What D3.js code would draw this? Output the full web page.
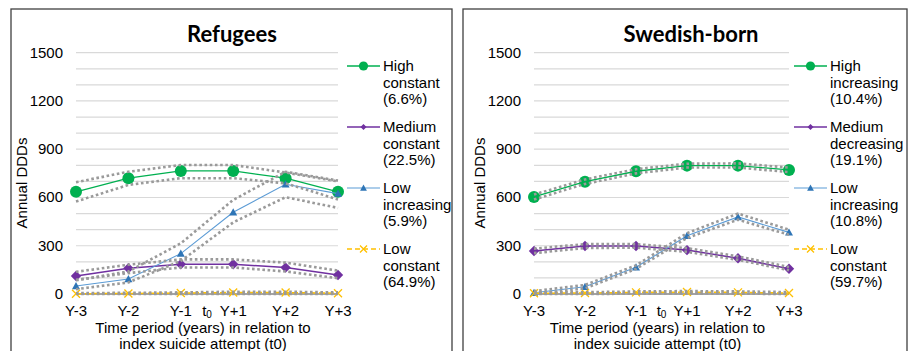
<!DOCTYPE html>
<meta charset="utf-8">
<style>
  body { margin: 0; background: #fff; }
  text { font-family: "Liberation Sans", Arial, sans-serif; fill: #000; }
  .title { font-family: Lato, "Open Sans", sans-serif; font-weight: bold; }
</style>
<script src="https://d3js.org/d3.v7.min.js"></script>
<svg id="chart" width="908" height="351"></svg>
<script>

// categories and ticks
var categories = ["Y-3", "Y-2", "Y-1", "Y+1", "Y+2", "Y+3"];
var yTicks = [0, 300, 600, 900, 1200, 1500];
var gridValues = [0, 100, 200, 300, 400, 500, 600, 700, 800, 900, 1000, 1100, 1200, 1300, 1400, 1500];

// Refugees
var refHigh   = [635, 720, 765, 765, 720, 635];
var refHighLo = [575, 678, 720, 720, 688, 588];
var refHighHi = [695, 760, 802, 802, 755, 700];
var refMed    = [112, 160, 185, 185, 164, 118];
var refMedLo  = [88, 130, 165, 165, 140, 98];
var refMedHi  = [138, 182, 215, 215, 195, 145];
var refLowInc   = [50, 93, 251, 508, 682, 624];
var refLowIncLo = [30, 72, 205, 445, 602, 535];
var refLowIncHi = [85, 140, 315, 585, 760, 705];
var refLowCon   = [2, 3, 6, 9, 9, 5];
var refLowConLo = [0, 0, 0, 0, 0, 0];
var refLowConHi = [6, 7, 10, 14, 14, 10];

// Swedish-born
var sweHigh   = [603, 698, 763, 798, 798, 771];
var sweHighLo = [588, 684, 750, 786, 786, 758];
var sweHighHi = [618, 712, 776, 810, 812, 786];
var sweMed    = [267, 298, 298, 273, 222, 157];
var sweMedLo  = [254, 286, 288, 262, 212, 148];
var sweMedHi  = [282, 310, 310, 285, 234, 168];
var sweLowInc   = [8, 45, 166, 362, 479, 383];
var sweLowIncLo = [0, 35, 156, 348, 462, 368];
var sweLowIncHi = [18, 56, 178, 378, 500, 400];
var sweLowCon   = [5, 6, 10, 12, 10, 6];
var sweLowConLo = [0, 0, 2, 4, 2, 0];
var sweLowConHi = [10, 11, 16, 18, 16, 12];

var refLabels = [["High", "constant", "(6.6%)"], ["Medium", "constant", "(22.5%)"],
                 ["Low", "increasing", "(5.9%)"], ["Low", "constant", "(64.9%)"]];
var sweLabels = [["High", "increasing", "(10.4%)"], ["Medium", "decreasing", "(19.1%)"],
                 ["Low", "increasing", "(10.8%)"], ["Low", "constant", "(59.7%)"]];

var styles = [
  { color: "#00b050", marker: "circle", lineColor: "#00b050", width: 1.3, dash: null },
  { color: "#7030a0", marker: "diamond", lineColor: "#7030a0", width: 1.5, dash: null },
  { color: "#2e75b6", marker: "triangle", lineColor: "#5b9bd5", width: 1.1, dash: null },
  { color: "#ffc000", marker: "cross", lineColor: "#ffc000", width: 1.5, dash: "6,3" }
];

var panels = [
  { title: "Refugees", box: [11, 9, 441], x0: 76, x1: 338, titleX: 232, legendX: 347,
    series: [[refHigh, refHighLo, refHighHi], [refMed, refMedLo, refMedHi],
             [refLowInc, refLowIncLo, refLowIncHi], [refLowCon, refLowConLo, refLowConHi]],
    labels: refLabels },
  { title: "Swedish-born", box: [463, 9, 444], x0: 534, x1: 789, titleX: 691, legendX: 794,
    series: [[sweHigh, sweHighLo, sweHighHi], [sweMed, sweMedLo, sweMedHi],
             [sweLowInc, sweLowIncLo, sweLowIncHi], [sweLowCon, sweLowConLo, sweLowConHi]],
    labels: sweLabels }
];

var svg = d3.select("#chart");
var y = d3.scaleLinear().domain([0, 1500]).range([294, 52.7]);

function drawMarker(g, type, cx, cy, big, color) {
  if (type == "circle") {
    g.append("circle").attr("cx", cx).attr("cy", cy).attr("r", big ? 6 : 4.6).attr("fill", color);
  } else if (type == "diamond") {
    var s = big ? 5.2 : 3;
    g.append("path").attr("d", "M" + cx + "," + (cy - s) + "L" + (cx + s) + "," + cy + "L" + cx + "," + (cy + s) + "L" + (cx - s) + "," + cy + "Z")
      .attr("fill", color);
  } else if (type == "triangle") {
    var t = big ? 4 : 3.4;
    g.append("path").attr("d", "M" + cx + "," + (cy - t) + "L" + (cx + t) + "," + (cy + t * 0.8) + "L" + (cx - t) + "," + (cy + t * 0.8) + "Z")
      .attr("fill", color);
  } else {
    var c = big ? 4 : 3.5;
    g.append("path").attr("d", "M" + (cx - c) + "," + (cy - c) + "L" + (cx + c) + "," + (cy + c) + "M" + (cx - c) + "," + (cy + c) + "L" + (cx + c) + "," + (cy - c))
      .attr("stroke", color).attr("stroke-width", 1.3).attr("fill", "none");
  }
}

panels.forEach(function(p) {
  var g = svg.append("g");

  // panel frame
  g.append("rect")
    .attr("x", p.box[0]).attr("y", p.box[1])
    .attr("width", p.box[2]).attr("height", 400)
    .attr("fill", "none").attr("stroke", "#404040").attr("stroke-width", 1.3);

  var x = d3.scalePoint().domain(categories).range([p.x0, p.x1]);

  // gridlines
  g.selectAll(".grid").data(gridValues).enter().append("line")
    .attr("x1", p.x0).attr("x2", p.x1)
    .attr("y1", function(d) { return y(d); }).attr("y2", function(d) { return y(d); })
    .attr("stroke", "#d9d9d9").attr("stroke-width", 1.2);

  // zero axis line
  g.append("line").attr("x1", p.x0).attr("x2", p.x1)
    .attr("y1", y(0)).attr("y2", y(0))
    .attr("stroke", "#8c8c8c").attr("stroke-width", 1.5);

  // y tick labels
  g.selectAll(".ytick").data(yTicks).enter().append("text")
    .attr("x", p.x0 - 13).attr("y", function(d) { return y(d) + 5; })
    .attr("text-anchor", "end").style("font-size", "15px")
    .text(function(d) { return d; });

  // x tick labels
  g.selectAll(".xtick").data(categories).enter().append("text")
    .attr("x", function(d) { return x(d); }).attr("y", 316)
    .attr("text-anchor", "middle").style("font-size", "15px")
    .text(function(d) { return d; });

  var tx = (x("Y-1") + x("Y+1")) / 2;
  var t0 = g.append("text").attr("x", tx).attr("y", 316).attr("text-anchor", "middle").style("font-size", "15px");
  t0.append("tspan").text("t");
  t0.append("tspan").attr("dy", 2).style("font-size", "10px").text("0");

  // axis titles
  var mid = (p.x0 + p.x1) / 2;
  g.append("text").attr("x", mid - 4).attr("y", 332.5).attr("text-anchor", "middle")
    .style("font-size", "15px").text("Time period (years) in relation to");
  g.append("text").attr("x", mid - 4).attr("y", 349).attr("text-anchor", "middle")
    .style("font-size", "15px").text("index suicide attempt (t0)");
  g.append("text")
    .attr("transform", "translate(" + (p.x0 - 49) + "," + 183 + ") rotate(-90)")
    .attr("text-anchor", "middle").style("font-size", "15px").text("Annual DDDs");

  // title
  g.append("text").attr("class", "title").attr("x", p.titleX).attr("y", 42)
    .attr("text-anchor", "middle").style("font-size", "22px").text(p.title);

  var line = d3.line().x(function(d, i) { return x(categories[i]); }).y(function(d) { return y(d); });

  // series lines and markers
  p.series.forEach(function(s, k) {
    var st = styles[k];
    g.append("path").attr("d", line(s[0])).attr("fill", "none")
      .attr("stroke", st.lineColor).attr("stroke-width", st.width)
      .attr("stroke-dasharray", st.dash);
    s[0].forEach(function(v, i) {
      drawMarker(g, st.marker, x(categories[i]), y(v), true, st.color);
    });
  });

  // confidence bands (dotted, drawn on top)
  p.series.forEach(function(s) {
    [s[1], s[2]].forEach(function(b) {
      g.append("path").attr("d", line(b)).attr("fill", "none")
        .attr("stroke", "#9a9a9a").attr("stroke-width", 2.6)
        .attr("stroke-dasharray", "2.6,2.6");
    });
  });

  // legend
  p.labels.forEach(function(lab, k) {
    var st = styles[k];
    var ly = 66 + k * 61;
    g.append("line").attr("x1", p.legendX).attr("x2", p.legendX + 33)
      .attr("y1", ly).attr("y2", ly)
      .attr("stroke", st.lineColor).attr("stroke-width", st.width)
      .attr("stroke-dasharray", st.dash ? "5,3" : null);
    drawMarker(g, st.marker, p.legendX + 16.5, ly, false, st.color);
    lab.forEach(function(t, j) {
      g.append("text").attr("x", p.legendX + 36).attr("y", ly + 5 + j * 16.7)
        .style("font-size", "15px").text(t);
    });
  });
});

</script>
